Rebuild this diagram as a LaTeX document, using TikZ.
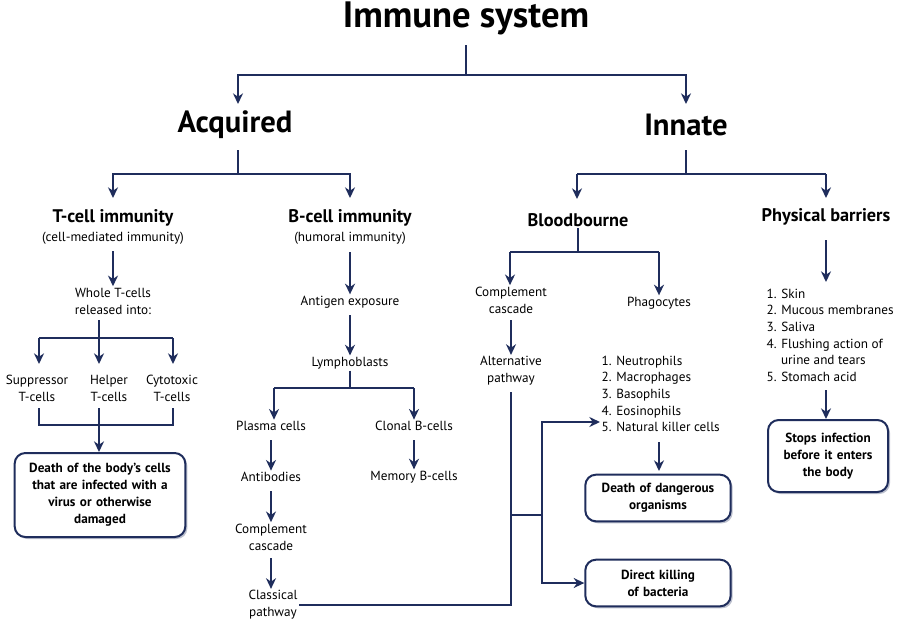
\documentclass[tikz,border=0pt]{standalone}
\usepackage{fontspec}
\setmainfont{PT Sans}
\usetikzlibrary{arrows.meta,shadows}
\definecolor{navy}{HTML}{1F2D5C}
\begin{document}
\begin{tikzpicture}[x=0.75pt,y=-0.75pt,
  ln/.style={draw=navy,line width=1.5pt},
  ar/.style={ln,-{Stealth[length=8pt,width=7.5pt]}},
  t/.style={font=\fontsize{9.9}{12.7}\selectfont,align=center,inner sep=1pt},
  h/.style={font=\fontsize{13.7}{16}\bfseries\selectfont,inner sep=1pt},
  big/.style={font=\fontsize{23}{26}\bfseries\selectfont,inner sep=1pt},
  box/.style={draw=navy,line width=1.5pt,rounded corners=8pt,fill=white,inner sep=2pt,font=\fontsize{9.9}{12.7}\bfseries\selectfont,align=center,drop shadow={shadow xshift=1.5pt,shadow yshift=-1.5pt,fill=navy!60}},
  lst/.style={font=\fontsize{9.9}{12.5}\selectfont,align=left,inner sep=1pt,anchor=north west}]
\useasboundingbox (0,0) rectangle (907,626);
\node[font=\fontsize{27.5}{30}\bfseries\selectfont] (title) at (466,18) {Immune system};
\node[big] (acq) at (235,125) {Acquired};
\node[big] (inn) at (686,125) {Innate};
\coordinate (c1) at (466,75);
\draw[ln] (466,45) -- (c1);
\draw[ar] (c1) -| (238,104);
\draw[ar] (c1) -| (686,104);
% acquired
\node[h] (tc) at (113,218) {T-cell immunity};
\node[t] (tcs) at (113,238) {(cell-mediated immunity)};
\node[h] (bc) at (350,218) {B-cell immunity};
\node[t] (bcs) at (350,238) {(humoral immunity)};
\coordinate (c2) at (238,174);
\draw[ln] (238,150) -- (c2);
\draw[ar] (c2) -| (113,198);
\draw[ar] (c2) -| (350,198);
% T cells
\node[t] (whole) at (113,301) {Whole T-cells\\released into:};
\draw[ar] (113,251) -- (113,0 |- whole.north);
\coordinate (c3) at (99,338);
\draw[ln] (99,320) -- (c3);
\node[t] (sup) at (37,388) {Suppressor\\T-cells};
\node[t] (hel) at (109,388) {Helper\\T-cells};
\node[t] (cyt) at (172,388) {Cytotoxic\\T-cells};
\draw[ln] (39,338) -- (173,338);
\draw[ar] (39,338) -- (39,364);
\draw[ar] (99,338) -- (99,364);
\draw[ar] (173,338) -- (173,364);
\draw[ln] (39,408) |- (173,425) -- (173,408);
\node[box,minimum width=128pt,minimum height=63pt,text width=122pt] (death) at (100,495) {Death of the body’s cells\\that are infected with a\\virus or otherwise\\damaged};
\draw[ar] (99,408) -- (99,0 |- death.north);
% B cells
\node[t] (ant) at (350,302) {Antigen exposure};
\node[t] (lym) at (350,363) {Lymphoblasts};
\draw[ar] (350,252) -- (350,0 |- ant.north);
\draw[ar] (350,315) -- (350,0 |- lym.north);
\coordinate (c4) at (350,388);
\draw[ln] (lym.south) -- (c4);
\node[t] (pla) at (271,426) {Plasma cells};
\node[t] (clo) at (414,426) {Clonal B-cells};
\draw[ln] (274,388) -- (414,388);
\draw[ar] (414,388) -- (414,0 |- clo.north);
\draw[ar] (274,388) -- (274,0 |- pla.north);
\node[t] (abs) at (271,477) {Antibodies};
\node[t] (cc1) at (271,537) {Complement\\cascade};
\node[t] (cla) at (273,605) {Classical\\pathway};
\node[t] (mem) at (414,477) {Memory B-cells};
\draw[ar] (271,440) -- (271,0 |- abs.north);
\draw[ar] (271,491) -- (271,0 |- cc1.north);
\draw[ar] (271,558) -- (271,0 |- cla.north);
\draw[ar] (414,440) -- (414,0 |- mem.north);
% innate
\node[h] (blo) at (578,220) {Bloodbourne};
\node[h] (phy) at (826,217) {Physical barriers};
\coordinate (c5) at (686,174);
\draw[ln] (686,150) -- (c5);
\draw[ln] (577,174) -- (826,174);
\draw[ar] (577,174) -- (577,199);
\draw[ar] (826,174) -- (826,198);
\coordinate (c6) at (578,252);
\draw[ln] (blo.south) -- (c6);
\node[t] (cc2) at (511,300) {Complement\\cascade};
\node[t] (pha) at (659,303) {Phagocytes};
\draw[ln] (510,252) -- (659,252);
\draw[ar] (659,252) -- (659,0 |- pha.north);
\draw[ar] (510,252) -- (510,0 |- cc2.north);
\node[t] (alt) at (511,371) {Alternative\\pathway};
\draw[ar] (511,320) -- (511,0 |- alt.north);
\node[lst] (plist) at (600,354) {1. Neutrophils\\2. Macrophages\\3. Basophils\\4. Eosinophils\\5. Natural killer cells};
\draw[ar] (659,442) -- (659,471);
\node[box,minimum width=109pt,minimum height=35pt,text width=100pt] (ddo) at (658,498) {Death of dangerous\\organisms};
\node[box,minimum width=109pt,minimum height=35pt,text width=100pt] (dkb) at (658,583) {Direct killing\\of bacteria};
\draw[ln] (511,392) -- (511,605) -- (cla.east |- 511,605);
\draw[ln] (511,515) -- (542,515);
\draw[ar] (542,515) |- (plist.west |- 0,422);
\draw[ar] (542,515) |- (dkb.west);
% physical
\node[lst] (blist) at (765,287) {1. Skin\\2. Mucous membranes\\3. Saliva\\4. Flushing action of\\\hspace*{1.1em}urine and tears\\5. Stomach acid};
\draw[ar] (826,240) -- (826,282);
\node[box,minimum width=90pt,minimum height=54pt,text width=86pt] (sto) at (828,456) {Stops infection\\before it enters\\the body};
\draw[ar] (826,390) -- (826,0 |- sto.north);
\end{tikzpicture}
\end{document}
